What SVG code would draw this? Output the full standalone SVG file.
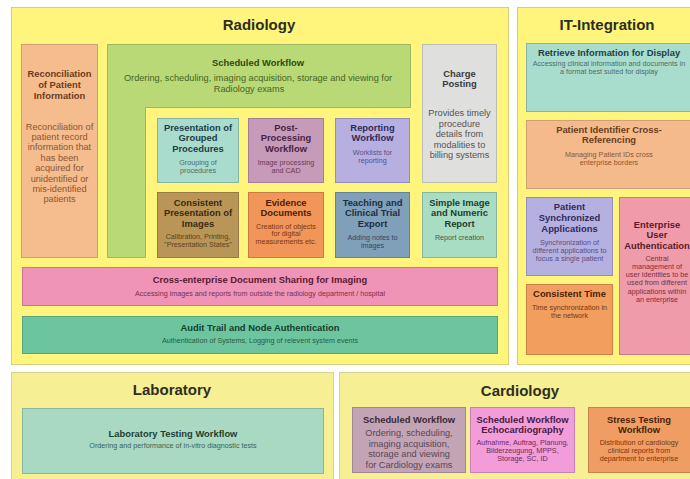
<svg xmlns="http://www.w3.org/2000/svg" width="690" height="479" viewBox="0 0 690 479">
<style>
text{font-family:"Liberation Sans",Arial,sans-serif;text-anchor:middle}
.pt{font-size:15px;font-weight:bold;fill:#2e2e1e}
.t{font-size:9.4px;font-weight:bold}
.d{font-size:7.2px}
.dl{font-size:9.2px}
.panel{fill:#fff47c;stroke:#d6cd7c;stroke-width:1}
.pale{fill:#f7ef93;stroke:#d6d09c;stroke-width:1}
.box{stroke-width:1}
</style>
<rect width="690" height="479" fill="#ffffff"/>

<!-- Panels -->
<g id="radiology">
<rect class="panel" x="11.5" y="7.5" width="497" height="357"/>
<text class="pt" x="259" y="30">Radiology</text>
</g>
<g id="it-integration">
<rect class="panel" x="517.5" y="7.5" width="190" height="357"/>
<text class="pt" x="607" y="30">IT-Integration</text>
</g>
<g id="laboratory">
<rect class="pale" x="11.5" y="372.5" width="322" height="120"/>
<text class="pt" x="172" y="395">Laboratory</text>
</g>
<g id="cardiology">
<rect class="pale" x="339.5" y="372.5" width="370" height="120"/>
<text class="pt" x="520" y="396">Cardiology</text>
</g>

<!-- Radiology nodes -->
<g id="reconciliation">
<rect class="box" x="21.5" y="44.5" width="76" height="213" fill="#f5bc8d" stroke="#cfa075"/>
<g fill="#6a3c1c"><text class="t" x="59.5" y="77">Reconciliation</text><text class="t" x="59.5" y="88">of Patient</text><text class="t" x="59.5" y="98.5">Information</text></g>
<g fill="#8a5732"><text class="dl" x="59.5" y="129.5">Reconciliation of</text><text class="dl" x="59.5" y="139.9">patient record</text><text class="dl" x="59.5" y="150.3">information that</text><text class="dl" x="59.5" y="160.7">has been</text><text class="dl" x="59.5" y="171.1">acquired for</text><text class="dl" x="59.5" y="181.5">unidentified or</text><text class="dl" x="59.5" y="191.9">mis-identified</text><text class="dl" x="59.5" y="202.3">patients</text></g>
</g>

<g id="scheduled-workflow">
<path class="box" d="M107.5,44.5 H410.5 V107.5 H145.5 V257.5 H107.5 Z" fill="#b9d876" stroke="#9bb964"/>
<text class="t" x="258" y="66" fill="#2f4a12">Scheduled Workflow</text>
<g fill="#46661e"><text class="dl" x="258" y="80.5">Ordering, scheduling, imaging acquisition, storage and viewing for</text><text class="dl" x="249" y="91.5">Radiology exams</text></g>
</g>

<g id="charge-posting">
<rect class="box" x="422.5" y="44.5" width="74" height="138" fill="#dfdfdd" stroke="#bdbdb8"/>
<g fill="#3a3a3a"><text class="t" x="459.5" y="76.5">Charge</text><text class="t" x="459.5" y="87">Posting</text></g>
<g fill="#555555"><text class="dl" x="459.5" y="116">Provides timely</text><text class="dl" x="459.5" y="126.5">procedure</text><text class="dl" x="459.5" y="137">details from</text><text class="dl" x="459.5" y="147.5">modalities to</text><text class="dl" x="459.5" y="158">billing systems</text></g>
</g>

<g id="grouped-procedures">
<rect class="box" x="157.5" y="118.5" width="81" height="64" fill="#a9dccc" stroke="#86b4a6"/>
<g fill="#1e3d48"><text class="t" x="198" y="130.5">Presentation of</text><text class="t" x="198" y="141">Grouped</text><text class="t" x="198" y="151.5">Procedures</text></g>
<g fill="#4d6c6c"><text class="d" x="198" y="164.5">Grouping of</text><text class="d" x="198" y="173">procedures</text></g>
</g>

<g id="post-processing">
<rect class="box" x="248.5" y="118.5" width="75" height="64" fill="#c59bb9" stroke="#a27e97"/>
<g fill="#4a1f40"><text class="t" x="286" y="130.5">Post-</text><text class="t" x="286" y="141">Processing</text><text class="t" x="286" y="151.5">Workflow</text></g>
<g fill="#6a3a5c"><text class="d" x="286" y="164.5">Image processing</text><text class="d" x="286" y="173">and CAD</text></g>
</g>

<g id="reporting-workflow">
<rect class="box" x="335.5" y="118.5" width="74" height="64" fill="#b8afe1" stroke="#958dbc"/>
<g fill="#2f2a5a"><text class="t" x="372.5" y="130.5">Reporting</text><text class="t" x="372.5" y="141">Workflow</text></g>
<g fill="#574f82"><text class="d" x="372.5" y="154.5">Worklists for</text><text class="d" x="372.5" y="162.5">reporting</text></g>
</g>

<g id="consistent-presentation">
<rect class="box" x="157.5" y="192.5" width="81" height="65" fill="#b99557" stroke="#977a45"/>
<g fill="#3a2a10"><text class="t" x="198" y="205.5">Consistent</text><text class="t" x="198" y="216">Presentation of</text><text class="t" x="198" y="226.5">Images</text></g>
<g fill="#5a4420"><text class="d" x="198" y="239">Calibration, Printing,</text><text class="d" x="198" y="247">"Presentation States"</text></g>
</g>

<g id="evidence-documents">
<rect class="box" x="248.5" y="192.5" width="75" height="65" fill="#f29558" stroke="#cc7b45"/>
<g fill="#4a1e08"><text class="t" x="286" y="205.5">Evidence</text><text class="t" x="286" y="216">Documents</text></g>
<g fill="#7a3512"><text class="d" x="286" y="228.5">Creation of objects</text><text class="d" x="286" y="236">for digital</text><text class="d" x="286" y="243.5">measurements etc.</text></g>
</g>

<g id="teaching-export">
<rect class="box" x="335.5" y="192.5" width="74" height="65" fill="#809fb9" stroke="#66819a"/>
<g fill="#1d2d44"><text class="t" x="372.5" y="205.5">Teaching and</text><text class="t" x="372.5" y="216">Clinical Trial</text><text class="t" x="372.5" y="226.5">Export</text></g>
<g fill="#34465f"><text class="d" x="372.5" y="239.5">Adding notes to</text><text class="d" x="372.5" y="247.5">images</text></g>
</g>

<g id="simple-image-report">
<rect class="box" x="422.5" y="192.5" width="74" height="65" fill="#a8dcc3" stroke="#86b6a0"/>
<g fill="#1e3e2e"><text class="t" x="459.5" y="205.5">Simple Image</text><text class="t" x="459.5" y="216">and Numeric</text><text class="t" x="459.5" y="226.5">Report</text></g>
<g fill="#3f5f4f"><text class="d" x="459.5" y="239.5">Report creation</text></g>
</g>

<g id="xds-imaging">
<rect class="box" x="22.5" y="267.5" width="475" height="38" fill="#ef94b6" stroke="#c97897"/>
<text class="t" x="260" y="282.5" fill="#5a1a32">Cross-enterprise Document Sharing for Imaging</text>
<text class="d" x="260" y="295.5" fill="#7a3050">Accessing images and reports from outside the radiology department / hospital</text>
</g>

<g id="audit-trail">
<rect class="box" x="22.5" y="316.5" width="475" height="37" fill="#6dc59f" stroke="#55a583"/>
<text class="t" x="260" y="330.5" fill="#14402a">Audit Trail and Node Authentication</text>
<text class="d" x="260" y="342.5" fill="#2a5a40">Authentication of Systems, Logging of relevent system events</text>
</g>

<!-- IT-Integration nodes -->
<g id="retrieve-information">
<rect class="box" x="526.5" y="43.5" width="172" height="68" fill="#a8dccc" stroke="#86b4a6"/>
<text class="t" x="609" y="55.5" fill="#1e3d48">Retrieve Information for Display</text>
<g fill="#4d6c6c"><text class="d" x="609" y="66">Accessing clinical information and documents in</text><text class="d" x="609" y="74">a format best suited for display</text></g>
</g>

<g id="pix">
<rect class="box" x="526.5" y="120.5" width="172" height="68" fill="#f5ba8c" stroke="#cfa075"/>
<g fill="#6a3c1c"><text class="t" x="609" y="132.5">Patient Identifier Cross-</text><text class="t" x="609" y="142.5">Referencing</text></g>
<g fill="#8a5732"><text class="d" x="609" y="157">Managing Patient IDs cross</text><text class="d" x="609" y="165">enterprise borders</text></g>
</g>

<g id="patient-sync">
<rect class="box" x="526.5" y="197.5" width="86" height="78" fill="#b6b0e1" stroke="#948dbd"/>
<g fill="#2f2a5a"><text class="t" x="569.5" y="209.5">Patient</text><text class="t" x="569.5" y="220.5">Synchronized</text><text class="t" x="569.5" y="231.5">Applications</text></g>
<g fill="#574f82"><text class="d" x="569.5" y="244.5">Synchronization of</text><text class="d" x="569.5" y="252.5">different applications to</text><text class="d" x="569.5" y="260.5">focus a single patient</text></g>
</g>

<g id="consistent-time">
<rect class="box" x="526.5" y="284.5" width="86" height="70" fill="#f19e5f" stroke="#cc824a"/>
<text class="t" x="569.5" y="296.5" fill="#4a1e08">Consistent Time</text>
<g fill="#7a3512"><text class="d" x="569.5" y="309.5">Time synchronization in</text><text class="d" x="569.5" y="318">the network</text></g>
</g>

<g id="enterprise-user-auth">
<rect class="box" x="619.5" y="197.5" width="80" height="157" fill="#f09ba9" stroke="#c97d8a"/>
<g fill="#5a1a2a"><text class="t" x="657" y="227.5">Enterprise</text><text class="t" x="657" y="238">User</text><text class="t" x="657" y="248.5">Authentication</text></g>
<g fill="#7a3040"><text class="d" x="657" y="260.5">Central</text><text class="d" x="657" y="268.8">management of</text><text class="d" x="657" y="277.1">user identities to be</text><text class="d" x="657" y="285.4">used from different</text><text class="d" x="657" y="293.7">applications within</text><text class="d" x="657" y="302">an enterprise</text></g>
</g>

<!-- Laboratory node -->
<g id="lab-testing">
<rect class="box" x="22.5" y="408.5" width="301" height="65" fill="#aad9c3" stroke="#8ab6a2"/>
<text class="t" x="173" y="436.5" fill="#1e3e2e">Laboratory Testing Workflow</text>
<text class="d" x="173" y="447.5" fill="#3f5f4f">Ordering and performance of in-vitro diagnostic tests</text>
</g>

<!-- Cardiology nodes -->
<g id="card-scheduled-workflow">
<rect class="box" x="352.5" y="407.5" width="113" height="65" fill="#c3a4b4" stroke="#a08795"/>
<text class="t" x="409" y="422.5" fill="#3a2a3a">Scheduled Workflow</text>
<g fill="#5a4656"><text class="dl" x="409" y="436">Ordering, scheduling,</text><text class="dl" x="409" y="446.5">imaging acquisition,</text><text class="dl" x="409" y="457">storage and viewing</text><text class="dl" x="409" y="467.5">for Cardiology exams</text></g>
</g>

<g id="echo-workflow">
<rect class="box" x="470.5" y="407.5" width="104" height="65" fill="#f29dda" stroke="#c981b4"/>
<g fill="#4a1a40"><text class="t" x="522.5" y="422.5">Scheduled Workflow</text><text class="t" x="522.5" y="432.5">Echocardiography</text></g>
<g fill="#6a2a5c"><text class="d" x="522.5" y="444.5">Aufnahme, Auftrag, Planung,</text><text class="d" x="522.5" y="452.5">Bilderzeugung, MPPS,</text><text class="d" x="522.5" y="460.5">Storage, SC, ID</text></g>
</g>

<g id="stress-testing">
<rect class="box" x="588.5" y="407.5" width="105" height="65" fill="#ef9d62" stroke="#c9824e"/>
<g fill="#4a1e08"><text class="t" x="639" y="422.5">Stress Testing</text><text class="t" x="639" y="432.5">Workflow</text></g>
<g fill="#7a3512"><text class="d" x="639" y="444.5">Distribution of cardiology</text><text class="d" x="639" y="452.5">clinical reports from</text><text class="d" x="639" y="460.5">department to enterprise</text></g>
</g>

<g id="connectors"></g>
</svg>
